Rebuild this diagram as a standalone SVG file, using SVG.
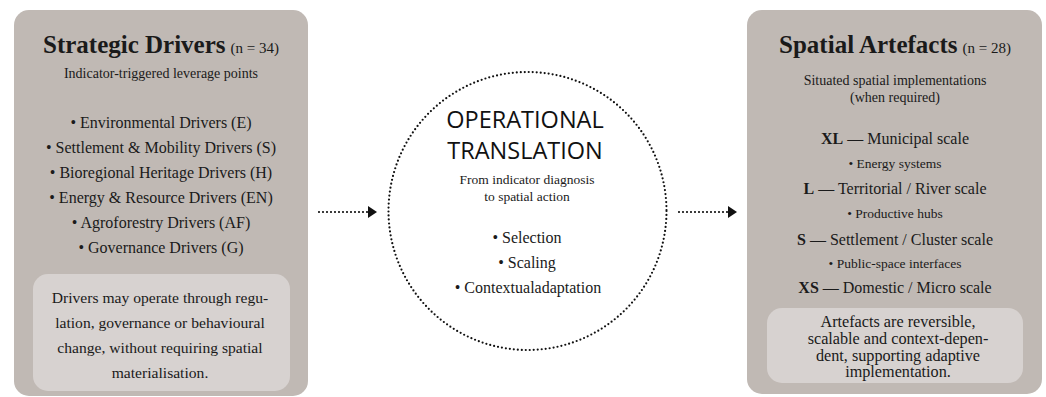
<svg xmlns="http://www.w3.org/2000/svg" width="1046" height="397" viewBox="0 0 1046 397">
<defs>
<style>
.outer{fill:#c0b9b4}
.inner{fill:#d7d2d0}
.serif{font-family:"Liberation Serif","Times New Roman",serif;fill:#1a1a1a;text-anchor:middle}
.title{font-size:25px;font-weight:bold}
.n{font-size:15px;font-weight:normal}
.sub{font-size:14px}
.item{font-size:16px}
.small{font-size:13.5px}
.note{font-size:15.6px}
.note2{font-size:16.2px}
.sans{font-family:"Open Sans","Liberation Sans",sans-serif;fill:#111;text-anchor:middle;font-size:23.5px;font-weight:400}
.dots{fill:none;stroke:#111;stroke-width:2.2;stroke-linecap:round;stroke-dasharray:0 4}
</style>
<marker id="ah" markerWidth="10" markerHeight="12" refX="1" refY="6" orient="auto" markerUnits="userSpaceOnUse">
<path d="M0,0 L9,6 L0,12 Z" fill="#111"/>
</marker>
</defs>
<rect width="1046" height="397" fill="#ffffff"/>
<g id="strategic-drivers">
<rect class="outer" x="14" y="10" width="294" height="386" rx="15"/>
<text class="serif title" x="161" y="53">Strategic Drivers<tspan class="n" dx="5">(n = 34)</tspan></text>
<text class="serif sub" x="161" y="78">Indicator-triggered leverage points</text>
<text class="serif item" x="161" y="128">• Environmental Drivers (E)</text>
<text class="serif item" x="161" y="153">• Settlement &amp; Mobility Drivers (S)</text>
<text class="serif item" x="161" y="178">• Bioregional Heritage Drivers (H)</text>
<text class="serif item" x="161" y="203">• Energy &amp; Resource Drivers (EN)</text>
<text class="serif item" x="161" y="228">• Agroforestry Drivers (AF)</text>
<text class="serif item" x="161" y="253">• Governance Drivers (G)</text>
<rect class="inner" x="33" y="274" width="257" height="117" rx="15"/>
<text class="serif note" x="160" y="303">Drivers may operate through regu-</text>
<text class="serif note" x="160" y="328">lation, governance or behavioural</text>
<text class="serif note" x="160" y="353">change, without requiring spatial</text>
<text class="serif note" x="160" y="378">materialisation.</text>
</g>
<g id="operational-translation">
<circle class="dots" cx="527.5" cy="211" r="139"/>
<text class="sans" x="525" y="128">OPERATIONAL</text>
<text class="sans" x="525" y="159">TRANSLATION</text>
<text class="serif small" x="527" y="184">From indicator diagnosis</text>
<text class="serif small" x="527" y="201">to spatial action</text>
<text class="serif item" x="527" y="243">• Selection</text>
<text class="serif item" x="527" y="268">• Scaling</text>
<text class="serif item" x="528" y="293" font-size="17">• Contextualadaptation</text>
</g>
<g id="spatial-artefacts">
<rect class="outer" x="747" y="10" width="295" height="384" rx="15"/>
<text class="serif title" x="895" y="53">Spatial Artefacts<tspan class="n" dx="5">(n = 28)</tspan></text>
<text class="serif sub" x="895" y="85">Situated spatial implementations</text>
<text class="serif sub" x="895" y="102">(when required)</text>
<text class="serif item" x="895" y="144"><tspan font-weight="bold">XL</tspan> — Municipal scale</text>
<text class="serif small" x="895" y="168">• Energy systems</text>
<text class="serif item" x="895" y="194"><tspan font-weight="bold">L</tspan> — Territorial / River scale</text>
<text class="serif small" x="895" y="218">• Productive hubs</text>
<text class="serif item" x="895" y="245"><tspan font-weight="bold">S</tspan> — Settlement / Cluster scale</text>
<text class="serif small" x="895" y="268">• Public-space interfaces</text>
<text class="serif item" x="895" y="293"><tspan font-weight="bold">XS</tspan> — Domestic / Micro scale</text>
<rect class="inner" x="767" y="308" width="256" height="75" rx="15"/>
<text class="serif note2" x="898" y="327">Artefacts are reversible,</text>
<text class="serif note2" x="898" y="344">scalable and context-depen-</text>
<text class="serif note2" x="898" y="361">dent, supporting adaptive</text>
<text class="serif note2" x="898" y="377">implementation.</text>
</g>
<g id="connectors">
<line class="dots" x1="319" y1="212" x2="369" y2="212" marker-end="url(#ah)"/>
<line class="dots" x1="679" y1="212" x2="729" y2="212" marker-end="url(#ah)"/>
</g>
</svg>
